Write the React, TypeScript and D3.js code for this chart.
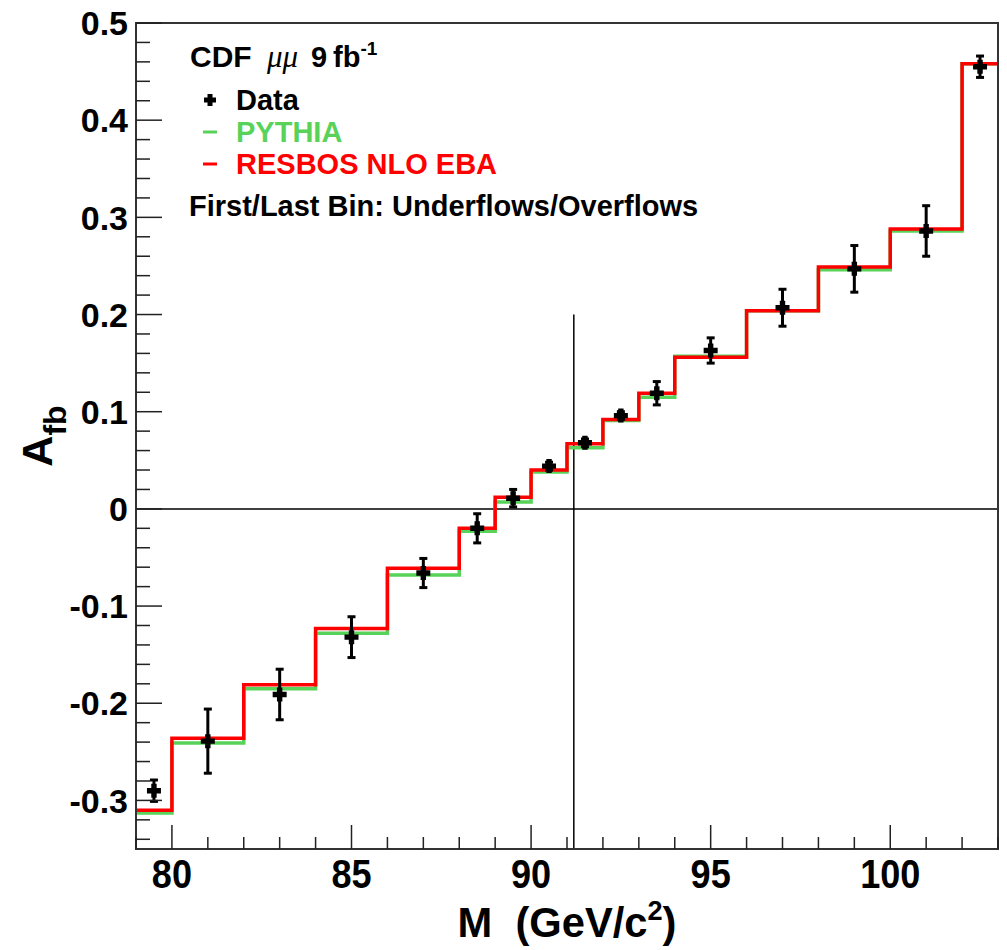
import React from "react";
import * as d3 from "d3";

// ---- data ----
const binEdges = [79, 80, 82, 84, 86, 88, 89, 90, 91, 92, 93, 94, 96, 98, 100, 102, 103];
const resbos = [-0.310, -0.236, -0.181, -0.123, -0.061, -0.020, 0.012, 0.040, 0.067, 0.092, 0.119, 0.156, 0.204, 0.249, 0.288, 0.458];
const pythia = [-0.313, -0.241, -0.185, -0.128, -0.068, -0.023, 0.007, 0.038, 0.063, 0.091, 0.115, 0.157, 0.204, 0.246, 0.286, 0.458];
const dataX = [79.5, 81, 83, 85, 87, 88.5, 89.5, 90.5, 91.5, 92.5, 93.5, 95, 97, 99, 101, 102.5];
const dataY = [-0.290, -0.239, -0.191, -0.132, -0.066, -0.020, 0.011, 0.044, 0.068, 0.096, 0.119, 0.163, 0.207, 0.247, 0.286, 0.455];
const dataErr = [0.011, 0.033, 0.026, 0.021, 0.015, 0.015, 0.009, 0.004, 0.004, 0.004, 0.012, 0.013, 0.019, 0.024, 0.026, 0.011];
const xTicks = [80, 85, 90, 95, 100];
const yTicks = [-0.3, -0.2, -0.1, 0, 0.1, 0.2, 0.3, 0.4, 0.5];
const zMass = 91.19;

const W = 1007, H = 950;
const L = 136, R = 998, T = 23, B = 849;
const FONT = "'Liberation Sans', Arial, Helvetica, sans-serif";

export default function App() {
  const x = d3.scaleLinear().domain([79, 103]).range([L, R]);
  const y = d3.scaleLinear().domain([-0.35, 0.5]).range([B, T]);

  const stepPath = (vals: number[]) => {
    const pts: [number, number][] = [];
    vals.forEach((v, i) => {
      pts.push([x(binEdges[i]), y(v)]);
      pts.push([x(binEdges[i + 1]), y(v)]);
    });
    return d3.line()(pts) as string;
  };

  const xMinor = d3.range(79, 104, 1);
  const yMinor = d3.range(-34, 51, 2).map((v) => v / 100);

  const plus = (cx: number, cy: number, s = 6.5, a = 2.5) =>
    `M${cx - s},${cy - a}H${cx - a}V${cy - s}H${cx + a}V${cy - a}H${cx + s}V${cy + a}H${cx + a}V${cy + s}H${cx - a}V${cy + a}H${cx - s}Z`;

  return (
    <svg width={W} height={H} style={{ position: "absolute", left: 0, top: 0, background: "#fff" }} fontFamily={FONT}>
      <rect x={0} y={0} width={W} height={H} fill="#fff" />
      {/* reference lines */}
      <line x1={L} x2={R} y1={y(0)} y2={y(0)} stroke="#000" strokeWidth={1.5} />
      <line x1={x(zMass)} x2={x(zMass)} y1={y(0.2)} y2={B} stroke="#000" strokeWidth={1.5} />

      {/* histograms */}
      <path d={stepPath(pythia)} fill="none" stroke="#58d258" strokeWidth={3.5} />
      <path d={stepPath(resbos)} fill="none" stroke="#ff0000" strokeWidth={3.5} />

      {/* data */}
      {dataX.map((dx, i) => {
        const cx = x(dx);
        const y1 = y(dataY[i] + dataErr[i]);
        const y2 = y(dataY[i] - dataErr[i]);
        return (
          <g key={i}>
            <line x1={cx} x2={cx} y1={y1} y2={y2} stroke="#000" strokeWidth={3} />
            <line x1={cx - 4} x2={cx + 4} y1={y1} y2={y1} stroke="#000" strokeWidth={3} />
            <line x1={cx - 4} x2={cx + 4} y1={y2} y2={y2} stroke="#000" strokeWidth={3} />
            <path d={plus(cx, y(dataY[i]), 7, 2.7)} fill="#000" />
          </g>
        );
      })}

      {/* frame */}
      <rect x={L} y={T} width={R - L} height={B - T} fill="none" stroke="#333" strokeWidth={2} />

      {/* y ticks */}
      {yMinor.map((v, i) => {
        const major = Math.abs(Math.round(v * 10) - v * 10) < 1e-6;
        return <line key={"ym" + i} x1={L} x2={L + (major ? 26 : 14)} y1={y(v)} y2={y(v)} stroke="#222" strokeWidth={1.5} />;
      })}
      {/* x ticks */}
      {xMinor.map((v, i) => (
        <line key={"xm" + i} x1={x(v)} x2={x(v)} y1={B} y2={B - (v % 5 === 0 ? 24 : 12)} stroke="#222" strokeWidth={1.5} />
      ))}

      {/* y tick labels */}
      {yTicks.map((v, i) => (
        <text key={"yl" + i} x={128} y={y(v)} dy="0.36em" textAnchor="end" fontSize={34} fontWeight="bold" fill="#000">
          {v === 0 ? "0" : d3.format(".1f")(v).replace("−", "-")}
        </text>
      ))}
      {/* x tick labels */}
      {xTicks.map((v, i) => (
        <g key={"xl" + i} transform={`translate(${x(v)},888) scale(0.88,1)`}>
          <text x={0} y={0} textAnchor="middle" fontSize={41} fontWeight="bold" fill="#000">{v}</text>
        </g>
      ))}

      {/* axis titles */}
      <g transform={`translate(${(L + R) / 2},937) scale(0.97,1)`}>
        <text x={0} y={0} textAnchor="middle" fontSize={43} fontWeight="bold" fill="#000">
          M{"\u00a0\u00a0"}(GeV/c<tspan dy={-17} fontSize={28}>2</tspan><tspan dy={17}>)</tspan>
        </text>
      </g>
      <g transform={`translate(52,${(T + B) / 2}) rotate(-90)`}>
        <text x={0} y={0} textAnchor="middle" fontSize={43} fontWeight="bold" fill="#000">
          A<tspan dy={14} fontSize={32}>fb</tspan>
        </text>
      </g>

      {/* title */}
      <text x={190} y={67} fontSize={30} fontWeight="bold" fill="#000">CDF</text>
      <text x={267} y={67} fontSize={31} fontStyle="italic" fontFamily="'Liberation Serif', 'Times New Roman', serif" fill="#000">μμ</text>
      <text x={311} y={67} fontSize={29} fontWeight="bold" fill="#000">9</text>
      <text x={333} y={67} fontSize={29} fontWeight="bold" fill="#000">
        fb<tspan dy={-12} fontSize={19}>-1</tspan>
      </text>

      {/* legend */}
      <path d={plus(210, 100, 6, 2.5)} fill="#000" />
      <text x={236} y={110} fontSize={29} fontWeight="bold" fill="#000">Data</text>
      <line x1={203} x2={217} y1={132} y2={132} stroke="#58d258" strokeWidth={3} />
      <text x={236} y={142} fontSize={29} fontWeight="bold" fill="#58d258">PYTHIA</text>
      <line x1={203} x2={217} y1={164} y2={164} stroke="#ff0000" strokeWidth={3} />
      <text x={236} y={174} fontSize={29} fontWeight="bold" fill="#ff0000">RESBOS NLO EBA</text>
      <text x={189} y={216} fontSize={29} fontWeight="bold" fill="#000">First/Last Bin: Underflows/Overflows</text>
    </svg>
  );
}
